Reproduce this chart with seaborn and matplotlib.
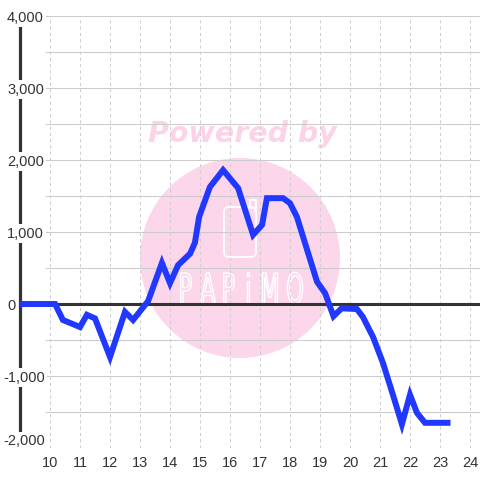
import matplotlib
matplotlib.use('Agg')
from matplotlib import pyplot as plt
from matplotlib.patches import Circle, FancyBboxPatch, PathPatch, Rectangle
from matplotlib.textpath import TextPath
from matplotlib.font_manager import FontProperties
from matplotlib.transforms import Affine2D, IdentityTransform, ScaledTranslation
import seaborn as sns
import pandas as pd

# values (hour of day, balance)
hours = [9.0, 10.17, 10.43, 11.0, 11.23, 11.5, 12.0, 12.5, 12.77, 13.27,
         13.73, 14.0, 14.27, 14.67, 14.83, 14.97, 15.33, 15.77, 16.27, 16.77,
         17.07, 17.23, 17.77, 18.0, 18.23, 18.9, 19.17, 19.45, 19.72, 20.23,
         20.43, 20.77, 21.1, 21.43, 21.73, 22.0, 22.23, 22.5, 23.25]
balance = [0, 0, -222, -320, -150, -200, -736, -110, -222, 40,
           570, 290, 540, 700, 850, 1210, 1625, 1860, 1610, 960,
           1100, 1470, 1470, 1400, 1210, 310, 150, -170, -60, -70,
           -180, -460, -820, -1260, -1670, -1260, -1510, -1650, -1650]

y_ticks = [-2000, -1000, 0, 1000, 2000, 3000, 4000]
y_labels = ['-2,000', '-1,000', '0', '1,000', '2,000', '3,000', '4,000']
x_ticks = list(range(10, 25))

df = pd.DataFrame({'hour': hours, 'balance': balance})

sns.set_theme(style='white')
plt.rcParams['font.family'] = ['Liberation Sans', 'DejaVu Sans']

fig = plt.figure(figsize=(4.8, 4.8), dpi=100)
ax = fig.add_axes([20/480, 32/480, 460/480, 432/480])
xmax = 9 + 460/30
ax.set_xlim(9.0, xmax)
ax.set_ylim(-2000, 4000)
for s in ax.spines.values():
    s.set_visible(False)

#watermark (pixel coords, origin bottom left)
pink = '#fcd7eb'
ax.add_patch(Circle((240, 480 - 258), 100, transform=IdentityTransform(),
                    facecolor=pink, edgecolor='none', zorder=0.35))
ax.add_patch(FancyBboxPatch((224, 480 - 257), 32, 50,
                            boxstyle='round,pad=0,rounding_size=5',
                            transform=IdentityTransform(), facecolor='none',
                            edgecolor='white', lw=1.3, zorder=0.36))
ax.add_patch(Rectangle((250, 480 - 208), 6, 8, transform=IdentityTransform(),
                       facecolor='none', edgecolor='white', lw=1.3, zorder=0.36))
logo_font = FontProperties(family='DejaVu Sans')
letter_x = [186, 208, 229, 248, 270, 295]
for ch, cx in zip('PAPiMO', letter_x):
    tp = TextPath((0, 0), ch, size=1, prop=logo_font)
    ext = tp.get_extents()
    sy = 30 / 0.73
    sx = sy * 0.55
    tr = Affine2D().translate(-(ext.x0 + ext.x1) / 2, 0).scale(sx, sy).translate(cx, 480 - 303)
    ax.add_patch(PathPatch(tr.transform_path(tp), transform=IdentityTransform(),
                           facecolor='none', edgecolor='white', lw=1.0, zorder=0.37))
ax.text(242/480, 1 - 134/480, 'Powered by', transform=fig.transFigure, ha='center', va='center',
        fontsize=20.5, color='#fdd3ea', weight='bold', style='italic', family='DejaVu Sans',
        zorder=0.37)

#grid
grid_y = [v for v in range(-2000, 4001, 500) if v != 0]
ax.hlines(grid_y, 9 + 25/30, xmax, color='#cccccc', lw=0.75, zorder=1, snap=True)
ax.vlines(x_ticks, -2000, 4000, color='#cfcfcf', lw=0.75, linestyles=(0, (3, 3)),
          zorder=1, snap=True)
ax.axhline(0, xmin=25/460, color='#333333', lw=2.2, zorder=2)
ax.axvline(9.0, color='#333333', lw=2.3, clip_on=False, zorder=0.3)

sns.lineplot(data=df, x='hour', y='balance', ax=ax, color='#2038ff', linewidth=4.3,
             sort=False, solid_capstyle='projecting', solid_joinstyle='miter', zorder=3)

ax.set_xlabel('')
ax.set_ylabel('')
ax.set_yticks(y_ticks)
ax.set_yticklabels(y_labels)
ax.set_xticks(x_ticks)
ax.set_xticklabels([str(h) for h in x_ticks])
ax.yaxis.set_zorder(2.6)
ax.tick_params(axis='y', length=0, pad=13*0.72, labelsize=10.5, labelcolor='#333333')
ax.tick_params(axis='x', length=0, pad=6, labelsize=10.5, labelcolor='#333333')
shift = ScaledTranslation(-4/100, 0, fig.dpi_scale_trans)
for t, lab in zip(ax.get_yticklabels(), y_labels):
    t.set_horizontalalignment('left')
    t.set_bbox(dict(facecolor='white', edgecolor='none', pad=1.5))
    if lab.startswith('-'):
        t.set_transform(t.get_transform() + shift)
ax.get_yticklabels()[0].set_verticalalignment('bottom')

fig.savefig('out.png', dpi=100)
